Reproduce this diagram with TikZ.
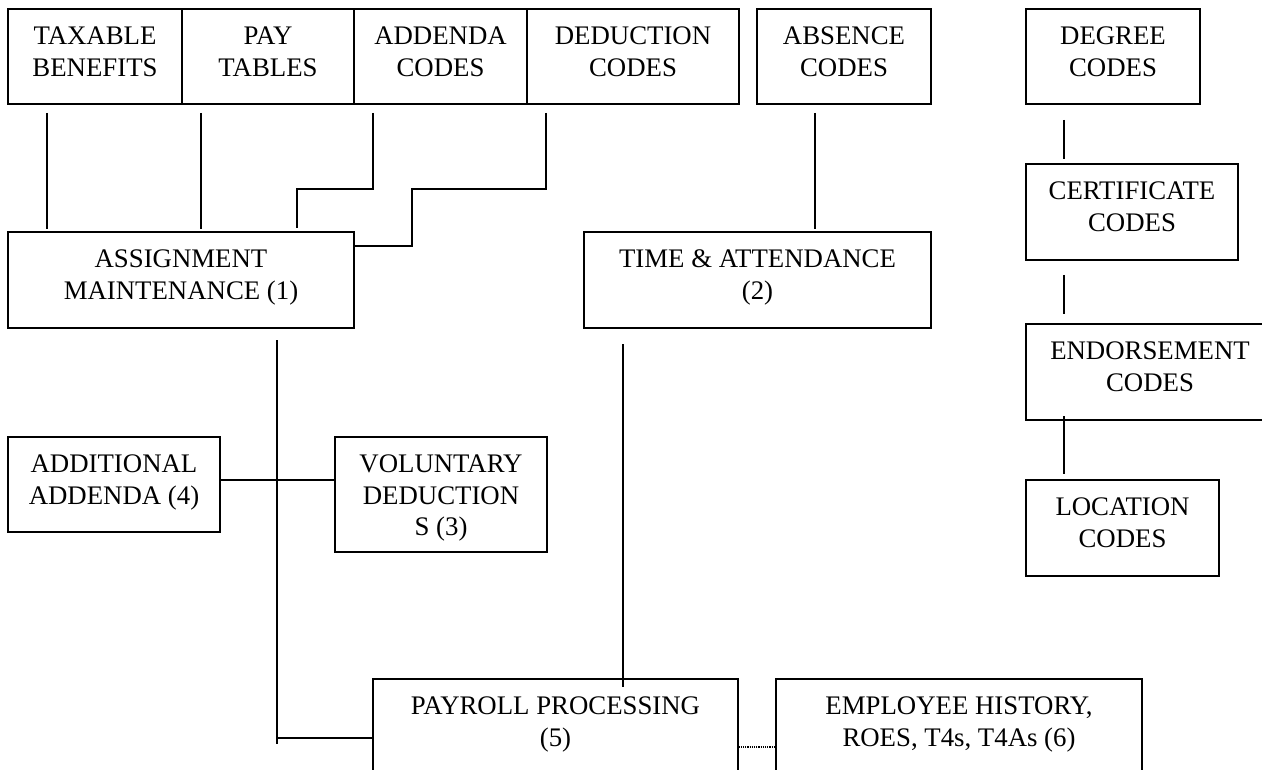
\documentclass[tikz,border=0pt]{standalone}
\usepackage{fontspec}
\setmainfont{Liberation Serif}
\usetikzlibrary{fit}
\tikzset{
  boxst/.style={draw, line width=1.3pt, rectangle, inner sep=0pt},
  txt/.style={align=center, inner sep=0pt, font=\fontsize{26.8pt}{31.6pt}\selectfont},
  wire/.style={line width=1.3pt},
  dots/.style={line width=1.2pt, dash pattern=on 1.1pt off 1.1pt}
}
\newcommand\dbox[6]{%
  \node[boxst, fit={(#2,#3) (#4,#5)}] (#1) {};
  \node[txt, anchor=north] (#1t) at ([yshift=-18pt]#1.north) {\rule{0pt}{18pt}#6};
}
\begin{document}
\begin{tikzpicture}[x=1pt, y=-1pt]
\useasboundingbox (0,0) rectangle (1262,770);
\fill[white] (0,0) rectangle (1262,770);
\clip (0,0) rectangle (1262,770);

% top row
\dbox{tax}{8}{9}{182}{104}{TAXABLE\\BENEFITS}
\dbox{pay}{182}{9}{354}{104}{PAY\\TABLES}
\dbox{add}{354}{9}{527}{104}{ADDENDA\\CODES}
\dbox{ded}{527}{9}{739}{104}{DEDUCTION\\CODES}
\dbox{abs}{757}{9}{931}{104}{ABSENCE\\CODES}
\dbox{deg}{1026}{9}{1200}{104}{DEGREE\\CODES}
% second row
\dbox{asg}{8}{232}{354}{328}{ASSIGNMENT\\MAINTENANCE (1)}
\dbox{tim}{584}{232}{931}{328}{TIME \& ATTENDANCE\\(2)}
% right column
\dbox{cer}{1026}{164}{1238}{260}{CERTIFICATE\\CODES}
\dbox{enq}{1026}{324}{1274}{420}{ENDORSEMENT\\CODES}
\dbox{loc}{1026}{480}{1219}{576}{LOCATION\\CODES}
% middle
\dbox{ada}{8}{437}{220}{532}{ADDITIONAL\\ADDENDA (4)}
\dbox{vol}{335}{437}{547}{552}{VOLUNTARY\\DEDUCTION\\S (3)}
% bottom
\dbox{prc}{373}{679}{738}{775}{PAYROLL PROCESSING\\(5)}
\dbox{emp}{776}{679}{1142}{775}{EMPLOYEE HISTORY,\\ROES, T4s, T4As (6)}

% connector coordinates
\coordinate (t1) at (47,113);  \coordinate (t2) at (47,229);
\coordinate (p1) at (201,113); \coordinate (p2) at (201,229);
\coordinate (a1) at (373,113); \coordinate (a2) at (373,189);
\coordinate (a3) at (297,189); \coordinate (a4) at (297,228);
\coordinate (d1) at (546,113); \coordinate (d2) at (546,189);
\coordinate (d3) at (412,189); \coordinate (d4) at (412,246);
\coordinate (b1) at (815,113); \coordinate (b2) at (815,229);
\coordinate (m1) at (277,340); \coordinate (m2) at (277,744);
\coordinate (h1) at (277,480); \coordinate (h2) at (277,738);
\coordinate (s1) at (623,344); \coordinate (s2) at (623,687);
\coordinate (g1) at (1064,120); \coordinate (g2) at (1064,159);
\coordinate (c1) at (1064,275); \coordinate (c2) at (1064,314);
\coordinate (e1) at (1064,416); \coordinate (e2) at (1064,474);
\coordinate (dt) at (757,747);

\draw[wire] (t1) -- (t2);
\draw[wire] (p1) -- (p2);
\draw[wire] (a1) -- (a2) -- (a3) -- (a4);
\draw[wire] (d1) -- (d2) -- (d3) -- (d4) -- (asg.east |- d4);
\draw[wire] (b1) -- (b2);
\draw[wire] (m1) -- (m2);
\draw[wire] (ada.east |- h1) -- (vol.west |- h1);
\draw[wire] (h2) -- (prc.west |- h2);
\draw[wire] (s1) -- (s2);
\draw[wire] (g1) -- (g2);
\draw[wire] (c1) -- (c2);
\draw[wire] (e1) -- (e2);
\draw[dots] (prc.east |- dt) -- (emp.west |- dt);
\end{tikzpicture}
\end{document}
